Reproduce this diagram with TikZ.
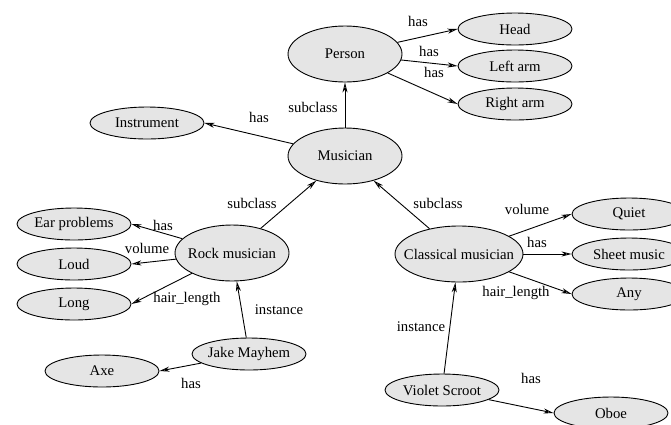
\documentclass[tikz,border=0pt]{standalone}
\usepackage{fontspec}
\setmainfont{Liberation Serif}
\usetikzlibrary{shapes.geometric,arrows.meta}
\definecolor{ellfill}{RGB}{229,229,229}
\tikzset{
  ell/.style={ellipse, draw=black, line width=0.9bp, fill=ellfill, inner sep=0pt, minimum width=114bp, minimum height=32bp},
  bigell/.style={ell, minimum height=56bp},
  conn/.style={line width=0.9bp, -{Stealth[open, length=10bp, width=5bp, inset=3bp]}},
  lbl/.style={inner sep=0pt},
  every node/.style={font=\fontsize{14.8}{17}\selectfont},
  every label/.style={inner sep=0pt}
}
\begin{document}
\begin{tikzpicture}[x=1bp, y=-1bp]
\clip (0,0) rectangle (671,424);
% nodes
\node[bigell, label=center:{Person}] (person) at (345,54) {};
\node[ell, label=center:{Head}] (head) at (515,29) {};
\node[ell, label=center:{Left arm}] (larm) at (515,66) {};
\node[ell, label=center:{Right arm}] (rarm) at (515,104) {};
\node[ell, label=center:{Instrument}] (instr) at (147,123) {};
\node[bigell, label=center:{Musician}] (musician) at (345,156) {};
\node[bigell, label=center:{Rock musician}] (rock) at (232,253) {};
\node[bigell, minimum width=128bp, label=center:{Classical musician}] (classical) at (459,254) {};
\node[ell, label=center:{Ear problems}] (ear) at (74,224) {};
\node[ell, label=center:{Loud}] (loud) at (74,264) {};
\node[ell, label=center:{Long}] (long) at (74,304) {};
\node[ell, label=center:{Jake Mayhem}] (jake) at (249,354) {};
\node[ell, label=center:{Axe}] (axe) at (102,371) {};
\node[ell, label=center:{Quiet}] (quiet) at (629,214) {};
\node[ell, label=center:{Sheet music}] (sheet) at (629,254) {};
\node[ell, label=center:{Any}] (any) at (629,294) {};
\node[ell, label=center:{Violet Scroot}] (violet) at (442,390) {};
\node[ell, label=center:{Oboe}] (oboe) at (611,413) {};
% connectors
\draw[conn] (person) -- (head.west);
\draw[conn] (person) -- (larm.west);
\draw[conn] (person) -- (rarm.west);
\draw[conn] (musician) -- (person);
\draw[conn] (musician) -- (instr.east);
\draw[conn] (rock) -- (musician);
\draw[conn] (classical) -- (musician);
\draw[conn] (rock) -- (ear.east);
\draw[conn] (rock) -- (loud.east);
\draw[conn] (rock) -- (long.east);
\draw[conn] (jake) -- (rock);
\draw[conn] (jake) -- (axe.east);
\draw[conn] (classical) -- (quiet.west);
\draw[conn] (classical) -- (sheet.west);
\draw[conn] (classical) -- (any.west);
\draw[conn] (violet) -- (classical);
\draw[conn] (violet) -- (oboe.west);
% connector labels
\node[lbl] (l1) at (418,21) {has};
\node[lbl] (l2) at (429,51) {has};
\node[lbl] (l3) at (434,72) {has};
\node[lbl] (l4) at (313,107) {subclass};
\node[lbl] (l5) at (259,117) {has};
\node[lbl] (l6) at (252,203) {subclass};
\node[lbl] (l7) at (438,203) {subclass};
\node[lbl] (l8) at (163,225) {has};
\node[lbl] (l9) at (147,248) {volume};
\node[lbl] (l10) at (187,299) {hair\_length};
\node[lbl] (l11) at (279,310) {instance};
\node[lbl] (l12) at (191,383) {has};
\node[lbl] (l13) at (527,209) {volume};
\node[lbl] (l14) at (537,242) {has};
\node[lbl] (l15) at (516,293) {hair\_length};
\node[lbl] (l16) at (421,327) {instance};
\node[lbl] (l17) at (531,378) {has};
\end{tikzpicture}
\end{document}
